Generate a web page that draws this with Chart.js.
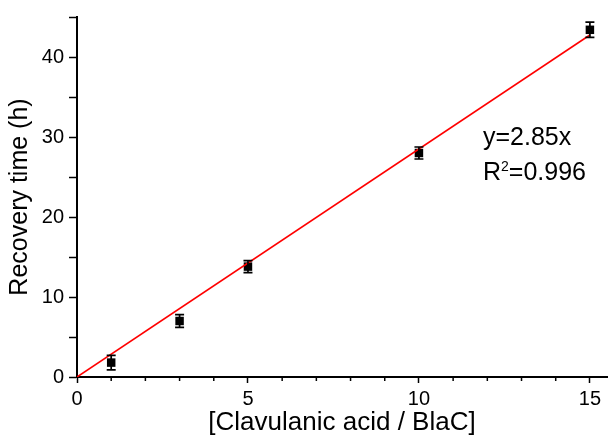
<!DOCTYPE html>
<html>
<head>
<meta charset="utf-8">
<script src="https://cdn.jsdelivr.net/npm/chart.js@4.4.1/dist/chart.umd.min.js"></script>
<style>
html,body{margin:0;padding:0;background:#fff;}
#c{display:block;}
</style>
</head>
<body>
<canvas id="c" width="613" height="438"></canvas>
<script>
// Data
const ratioX = [1, 3, 5, 10, 15];
const recoveryY = [1.8, 7.0, 13.8, 28.0, 43.4];
const recoveryErr = [0.9, 0.8, 0.75, 0.75, 0.95];
const fitX = [0, 15];
const fitY = [0, 42.75];
const xTickValues = [0, 1, 2, 3, 4, 5, 6, 7, 8, 9, 10, 11, 12, 13, 14, 15];
const xMajorLabels = [0, 5, 10, 15];
const yMajorLabels = [0, 10, 20, 30, 40];
const annotationLines = ['y=2.85x', 'R2=0.996'];

const FONT = "'Liberation Sans', Arial, sans-serif";

const extras = {
  id: 'extras',
  afterDatasetsDraw(chart) {
    const ctx = chart.ctx;
    const xs = chart.scales.x, ys = chart.scales.y;
    ctx.save();
    // error bars
    ctx.strokeStyle = '#000';
    ctx.lineWidth = 1.7;
    for (let i = 0; i < ratioX.length; i++) {
      const px = xs.getPixelForValue(ratioX[i]);
      const top = ys.getPixelForValue(recoveryY[i] + recoveryErr[i]);
      const bot = ys.getPixelForValue(recoveryY[i] - recoveryErr[i]);
      ctx.beginPath();
      ctx.moveTo(px, top); ctx.lineTo(px, bot);
      ctx.moveTo(px - 4.5, top); ctx.lineTo(px + 4.5, top);
      ctx.moveTo(px - 4.5, bot); ctx.lineTo(px + 4.5, bot);
      ctx.stroke();
    }
    // minor ticks on x axis
    ctx.lineWidth = 1.5;
    const y0 = ys.getPixelForValue(0);
    xs.ticks.forEach(t => {
      if (!xMajorLabels.includes(t.value)) {
        const px = xs.getPixelForValue(t.value);
        ctx.beginPath();
        ctx.moveTo(px, y0); ctx.lineTo(px, y0 + 4);
        ctx.stroke();
      }
    });
    // annotation
    ctx.fillStyle = '#000';
    ctx.textBaseline = 'alphabetic';
    ctx.font = '25px ' + FONT;
    const ax = 483;
    ctx.fillText(annotationLines[0], ax, 145);
    ctx.fillText('R', ax, 180);
    const rw = ctx.measureText('R').width;
    ctx.font = '14px ' + FONT;
    ctx.fillText('2', ax + rw, 171);
    const sw = ctx.measureText('2').width;
    ctx.font = '25px ' + FONT;
    ctx.fillText(annotationLines[1].slice(2), ax + rw + sw, 180);
    ctx.restore();
  }
};

new Chart(document.getElementById('c'), {
  type: 'scatter',
  data: {
    datasets: [
      {
        label: 'fit',
        data: fitX.map((x, i) => ({x: x, y: fitY[i]})),
        showLine: true,
        borderColor: '#ff0000',
        borderWidth: 1.6,
        pointRadius: 0,
        fill: false
      },
      {
        label: 'data',
        data: ratioX.map((x, i) => ({x: x, y: recoveryY[i]})),
        pointStyle: 'rect',
        pointRadius: 6,
        backgroundColor: '#000',
        borderColor: '#000',
        borderWidth: 0
      }
    ]
  },
  options: {
    responsive: false,
    animation: false,
    devicePixelRatio: 1,
    layout: {padding: {top: 14, right: 0, left: 0, bottom: 0}},
    plugins: {legend: {display: false}, tooltip: {enabled: false}},
    scales: {
      x: {
        type: 'linear',
        min: 0, max: 15.5,
        afterBuildTicks(s) { s.ticks = xTickValues.map(v => ({value: v})); },
        afterFit(s) { s.height = 61; },
        border: {display: true, color: '#000', width: 2},
        grid: {
          display: true, drawOnChartArea: false, drawTicks: true,
          tickLength: 6, tickWidth: 1.5,
          tickColor: c => (c.tick && xMajorLabels.includes(c.tick.value)) ? '#000' : 'rgba(0,0,0,0)'
        },
        ticks: {
          color: '#000', padding: 4, maxRotation: 0, autoSkip: false,
          font: {family: FONT, size: 20},
          callback: v => xMajorLabels.includes(v) ? String(v) : ''
        },
        title: {
          display: true, text: '[Clavulanic acid / BlaC]', color: '#000',
          font: {family: FONT, size: 26}, padding: {top: 0, bottom: 0}
        }
      },
      y: {
        type: 'linear',
        min: 0, max: 45,
        afterFit(s) { s.width = 77; },
        border: {display: true, color: '#000', width: 2},
        grid: {
          display: true, drawOnChartArea: false, drawTicks: true,
          tickLength: 8, tickWidth: 1.5, tickColor: '#000'
        },
        ticks: {
          stepSize: 5, color: '#000', padding: 5, autoSkip: false,
          font: {family: FONT, size: 20},
          callback: v => yMajorLabels.includes(v) ? String(v) : ''
        },
        title: {
          display: true, text: 'Recovery time (h)', color: '#000',
          font: {family: FONT, size: 25}, padding: {top: 5, bottom: 0}
        }
      }
    }
  },
  plugins: [extras]
});
</script>
</body>
</html>
